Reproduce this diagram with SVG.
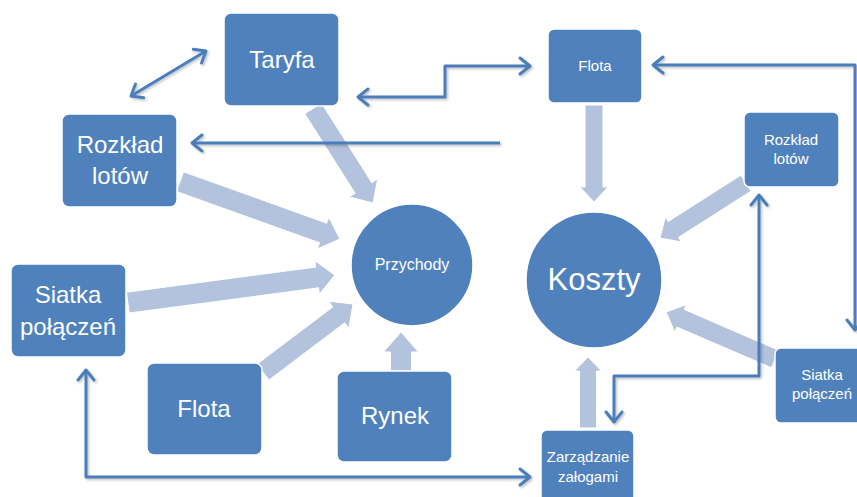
<svg xmlns="http://www.w3.org/2000/svg" width="857" height="497" viewBox="0 0 857 497">
<defs>
<style>
.node{fill:#4f81bd;stroke:#ffffff;stroke-width:1.5}
.big{fill:#ffffff;font-family:"Liberation Sans",Arial,sans-serif;font-size:24px;text-anchor:middle}
.small{fill:#ffffff;font-family:"Liberation Sans",Arial,sans-serif;font-size:15px;text-anchor:middle}
.fat{fill:#b3c3dd;stroke:#ffffff;stroke-width:1}
.link{fill:none;stroke:#4a7ebb;stroke-width:3;stroke-linejoin:round;filter:url(#sh)}
</style>
<marker id="ah" viewBox="0 0 12 18" refX="11" refY="9" markerWidth="12" markerHeight="18" markerUnits="userSpaceOnUse" orient="auto-start-reverse" overflow="visible">
<path d="M1,1 L11,9 L1,17" fill="none" stroke="#4a7ebb" stroke-width="3" stroke-linecap="round" stroke-linejoin="round"/>
</marker>
<filter id="sh" filterUnits="userSpaceOnUse" x="0" y="0" width="857" height="497">
<feDropShadow dx="1.5" dy="1.5" stdDeviation="1" flood-color="#000" flood-opacity="0.25"/>
</filter>
</defs>
<rect width="857" height="497" fill="#ffffff"/>

<g id="fat-arrows">
<polygon class="fat" transform="translate(373,203) rotate(57.7)" points="0,0 -18,-17 -18,-10 -112,-10 -112,10 -18,10 -18,17"/>
<polygon class="fat" transform="translate(340,239) rotate(19.7)" points="0,0 -18,-17 -18,-10.5 -170,-10.5 -170,10.5 -18,10.5 -18,17"/>
<polygon class="fat" transform="translate(335,275) rotate(-7.6)" points="0,0 -18,-17 -18,-10.5 -209,-10.5 -209,10.5 -18,10.5 -18,17"/>
<polygon class="fat" transform="translate(353,304) rotate(-37.1)" points="0,0 -18,-17 -18,-10 -113,-10 -113,10 -18,10 -18,17"/>
<polygon class="fat" transform="translate(401,332) rotate(-90)" points="0,0 -20,-17.5 -20,-10.5 -39,-10.5 -39,10.5 -20,10.5 -20,17.5"/>
<polygon class="fat" transform="translate(594,202) rotate(90)" points="0,0 -15,-14 -15,-9 -97,-9 -97,9 -15,9 -15,14"/>
<polygon class="fat" transform="translate(588,357) rotate(-90)" points="0,0 -14,-13.5 -14,-8.5 -71,-8.5 -71,8.5 -14,8.5 -14,13.5"/>
<polygon class="fat" transform="translate(660,238) rotate(147.4)" points="0,0 -16,-15 -16,-9.5 -102,-9.5 -102,9.5 -16,9.5 -16,15"/>
<polygon class="fat" transform="translate(666,312) rotate(203.3)" points="0,0 -16,-15 -16,-9.5 -119,-9.5 -119,9.5 -16,9.5 -16,15"/>
</g>

<g id="connectors">
<line class="link" x1="131" y1="96" x2="206" y2="51" marker-start="url(#ah)" marker-end="url(#ah)"/>
<line class="link" x1="500" y1="143" x2="192" y2="143" marker-end="url(#ah)"/>
<path class="link" d="M358,97 H445 V66 H530" marker-start="url(#ah)" marker-end="url(#ah)"/>
<path class="link" d="M653,65 H855 V330" marker-start="url(#ah)" marker-end="url(#ah)"/>
<path class="link" d="M759,195 V376 H614 V422" marker-start="url(#ah)" marker-end="url(#ah)"/>
<path class="link" d="M86,370 V477 H530" marker-start="url(#ah)" marker-end="url(#ah)"/>
</g>

<g id="taryfa">
<rect class="node" x="224" y="13" width="115" height="93" rx="7"/>
<text class="big" x="282" y="68">Taryfa</text>
</g>
<g id="rozklad-lotow-left">
<rect class="node" x="62" y="114" width="115" height="93" rx="7"/>
<text class="big" x="120" y="153">Rozkład</text>
<text class="big" x="120" y="184">lotów</text>
</g>
<g id="siatka-polaczen-left">
<rect class="node" x="11" y="264" width="115" height="93" rx="7"/>
<text class="big" x="68" y="303">Siatka</text>
<text class="big" x="68" y="335">połączeń</text>
</g>
<g id="flota-left">
<rect class="node" x="147" y="363" width="115" height="92" rx="7"/>
<text class="big" x="204" y="417">Flota</text>
</g>
<g id="rynek">
<rect class="node" x="337" y="371" width="115" height="91" rx="7"/>
<text class="big" x="395" y="424">Rynek</text>
</g>
<g id="przychody">
<circle class="node" cx="412" cy="265" r="61"/>
<text class="small" x="412" y="270" style="font-size:16px">Przychody</text>
</g>
<g id="koszty">
<circle class="node" cx="594" cy="280" r="68"/>
<text class="big" x="594" y="290" style="font-size:31px">Koszty</text>
</g>
<g id="flota-top">
<rect class="node" x="548" y="29" width="94" height="74" rx="6"/>
<text class="small" x="595" y="71">Flota</text>
</g>
<g id="rozklad-lotow-right">
<rect class="node" x="744" y="112" width="95" height="75" rx="6"/>
<text class="small" x="791" y="145">Rozkład</text>
<text class="small" x="791" y="164">lotów</text>
</g>
<g id="siatka-polaczen-right">
<rect class="node" x="775" y="348" width="95" height="75" rx="6"/>
<text class="small" x="822" y="380">Siatka</text>
<text class="small" x="822" y="399">połączeń</text>
</g>
<g id="zarzadzanie-zalogami">
<rect class="node" x="541" y="430" width="93" height="75" rx="6"/>
<text class="small" x="588" y="462">Zarządzanie</text>
<text class="small" x="588" y="482">załogami</text>
</g>
</svg>
